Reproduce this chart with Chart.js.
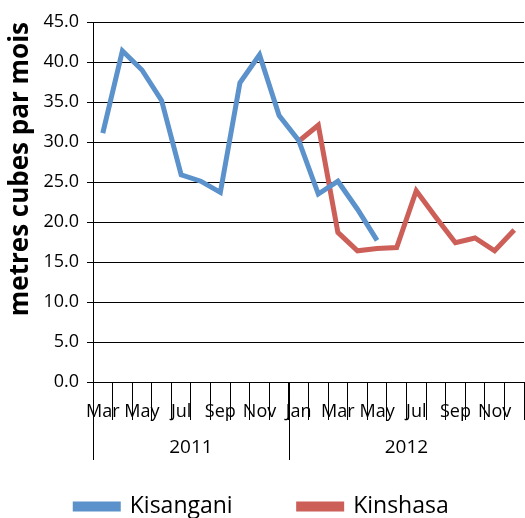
<!DOCTYPE html>
<html>
<head>
<meta charset="utf-8">
<script src="https://cdn.jsdelivr.net/npm/chart.js@4/dist/chart.umd.min.js"></script>
<style>
  html, body { margin: 0; padding: 0; background: #fff; }
  #wrap { width: 525px; height: 518px; }
</style>
</head>
<body>
<div id="wrap"><canvas id="c" width="525" height="518"></canvas></div>
<script>
const months = ['Mar','Apr','May','Jun','Jul','Aug','Sep','Oct','Nov','Dec',
                'Jan','Feb','Mar','Apr','May','Jun','Jul','Aug','Sep','Oct','Nov','Dec'];
const years = ['2011','2011','2011','2011','2011','2011','2011','2011','2011','2011',
               '2012','2012','2012','2012','2012','2012','2012','2012','2012','2012','2012','2012'];
const kisangani = [31.1, 41.4, 39.0, 35.2, 25.9, 25.1, 23.7, 37.4, 40.9, 33.3,
                   30.2, 23.5, 25.1, 21.6, 17.7, null, null, null, null, null, null, null];
const kinshasa = [null, null, null, null, null, null, null, null, null, null,
                  30.1, 32.1, 18.7, 16.4, 16.7, 16.8, 23.9, 20.6, 17.4, 18.0, 16.4, 19.0];
const yTicks = [0, 5, 10, 15, 20, 25, 30, 35, 40, 45];
const yTitle = 'metres cubes par mois';

const FONT = 'Open Sans';

const yearPlugin = {
  id: 'yearGroups',
  afterDraw(chart) {
    const x = chart.scales.x;
    const ctx = chart.ctx;
    const bottom = chart.chartArea.bottom;
    const half = (x.getPixelForValue(1) - x.getPixelForValue(0)) / 2;
    const groups = [];
    years.forEach((y, i) => {
      if (!groups.length || groups[groups.length - 1].label !== y) groups.push({label: y, s: i, e: i});
      else groups[groups.length - 1].e = i;
    });
    ctx.save();
    ctx.strokeStyle = '#000';
    ctx.lineWidth = 1;
    ctx.fillStyle = '#000';
    ctx.font = '19px "' + FONT + '"';
    ctx.textAlign = 'center';
    ctx.textBaseline = 'middle';
    groups.forEach(g => {
      const l = x.getPixelForValue(g.s) - half;
      const r = x.getPixelForValue(g.e) + half;
      const lx = Math.round(l) + 0.5;
      ctx.beginPath();
      ctx.moveTo(lx, bottom);
      ctx.lineTo(lx, bottom + 78);
      ctx.stroke();
      ctx.fillText(g.label, (l + r) / 2, bottom + 66);
    });
    ctx.restore();
  }
};

new Chart(document.getElementById('c'), {
  type: 'line',
  data: {
    labels: months,
    datasets: [
      { label: 'Kisangani', data: kisangani, borderColor: '#5B92CB', backgroundColor: '#5B92CB',
        borderWidth: 5, pointRadius: 0, tension: 0, spanGaps: false },
      { label: 'Kinshasa', data: kinshasa, borderColor: '#CD5F59', backgroundColor: '#CD5F59',
        borderWidth: 5, pointRadius: 0, tension: 0, spanGaps: false }
    ]
  },
  options: {
    responsive: false,
    animation: false,
    devicePixelRatio: 1,
    layout: { padding: { top: 22, right: 1, left: 0, bottom: -10 } },
    plugins: {
      tooltip: { enabled: false },
      legend: {
        position: 'bottom',
        labels: {
          font: { family: FONT, size: 23 },
          color: '#000',
          boxWidth: 43,
          boxHeight: 5,
          padding: 66
        }
      }
    },
    scales: {
      x: {
        offset: true,
        grid: { display: true, drawOnChartArea: false, offset: true, tickLength: 38, color: '#000' },
        border: { display: true, color: '#000' },
        ticks: {
          autoSkip: false, maxRotation: 0, minRotation: 0,
          color: '#000', font: { family: FONT, size: 18 }, padding: -19,
          callback: (v, i) => (i % 2 === 0 ? months[i] : '')
        },
        afterFit: s => { s.height = 47; }
      },
      y: {
        min: 0, max: 45,
        afterBuildTicks: s => { s.ticks = yTicks.map(v => ({ value: v })); },
        grid: { color: '#000', tickLength: 6 },
        border: { display: true, color: '#000' },
        ticks: { color: '#000', font: { family: FONT, size: 18 }, padding: 8,
                 callback: v => Number(v).toFixed(1) },
        title: { display: true, text: yTitle, align: 'end', color: '#000',
                 font: { family: FONT, size: 26, weight: 'bold' }, padding: { top: 5, bottom: 0 } },
        afterFit: s => { s.width = 93; }
      }
    }
  },
  plugins: [yearPlugin]
});
</script>
</body>
</html>
